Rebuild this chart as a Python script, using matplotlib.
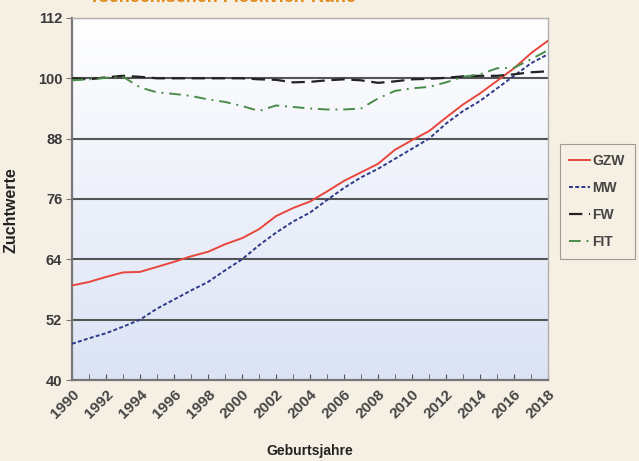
import matplotlib
matplotlib.use("Agg")
import matplotlib.pyplot as plt
import numpy as np

plt.rcParams["font.family"] = ["Liberation Sans", "DejaVu Sans"]

years = list(range(1990, 2019))

gzw = [58.8, 59.5, 60.5, 61.4, 61.5, 62.5, 63.5, 64.6, 65.5, 67.0,
       68.2, 70.0, 72.6, 74.2, 75.5, 77.5, 79.6, 81.3, 83.0, 85.8,
       87.7, 89.5, 92.2, 94.8, 97.0, 99.5, 102.0, 105.0, 107.5]
mw = [47.2, 48.3, 49.3, 50.6, 52.0, 54.2, 56.0, 57.8, 59.5, 61.8,
      64.0, 66.8, 69.3, 71.5, 73.3, 75.8, 78.2, 80.3, 82.0, 84.0,
      86.0, 88.0, 91.0, 93.5, 95.5, 98.0, 100.5, 103.0, 104.8]
fw = [100.0, 99.8, 100.2, 100.5, 100.3, 100.0, 100.0, 100.0, 100.0, 100.0,
      100.0, 99.8, 99.7, 99.2, 99.3, 99.6, 99.8, 99.6, 99.1, 99.4,
      99.8, 99.9, 100.1, 100.4, 100.5, 100.5, 100.8, 101.2, 101.4]
fit = [99.6, 99.8, 100.1, 100.3, 98.2, 97.2, 96.9, 96.5, 95.8, 95.3,
       94.5, 93.5, 94.6, 94.3, 94.0, 93.8, 93.8, 94.0, 96.0, 97.5,
       98.0, 98.3, 99.2, 100.3, 100.8, 102.0, 102.1, 103.8, 105.6]

y_ticks = [40, 52, 64, 76, 88, 100, 112]
x_labels = list(range(1990, 2019, 2))

bg = "#f6efe3"
fig = plt.figure(figsize=(6.39, 4.61), dpi=100, facecolor=bg)
ax = fig.add_axes([0.1127, 0.1757, 0.745, 0.7853])

# white-to-blue gradient behind the lines
grad = np.linspace(0, 1, 256).reshape(-1, 1)
top = np.array([1.0, 1.0, 1.0])
bot = np.array([0.86, 0.89, 0.96])
img = top + (bot - top) * grad[:, :, None]
ax.imshow(img, extent=[0, 1, 0, 1], transform=ax.transAxes,
          aspect="auto", zorder=0)

for v in y_ticks[1:]:
    ax.axhline(v, color="#555555", lw=1.5, zorder=1)

ax.plot(years, gzw, color="#e8463c", lw=1.4, label="GZW", zorder=3)
ax.plot(years, mw, color="#2e3a88", lw=1.4, ls=(0, (2, 1.2)), label="MW", zorder=3)
ax.plot(years, fw, color="#222222", lw=1.6, ls=(0, (6, 3)), label="FW", zorder=3)
ax.plot(years, fit, color="#4a8c4a", lw=1.4, ls=(0, (6, 3, 1, 3)), label="FIT", zorder=3)

ax.set_xlim(1990, 2018)
ax.set_ylim(40, 112)
ax.set_yticks(y_ticks)
ax.set_xticks(x_labels)
ax.set_xticks(years, minor=True)
ax.tick_params(axis="y", length=4, color="#777777", labelsize=10.5,
               labelcolor="#3a3a3a", pad=3)
ax.tick_params(axis="x", which="both", length=4, direction="in",
               color="#555555", labelsize=11, labelcolor="#444444", pad=5)
for lab in ax.get_yticklabels():
    lab.set_fontweight("bold")
for lab in ax.get_xticklabels():
    lab.set_rotation(45)
    lab.set_ha("right")
    lab.set_rotation_mode("anchor")
    lab.set_fontweight("bold")

for side in ("left", "bottom"):
    ax.spines[side].set_color("#777777")
    ax.spines[side].set_linewidth(1.6)
for side in ("top", "right"):
    ax.spines[side].set_color("#b0b0b0")
    ax.spines[side].set_linewidth(1.0)

ax.set_ylabel("Zuchtwerte", fontsize=11.5, fontweight="bold", color="#222222")
ax.yaxis.set_label_coords(-0.113, 0.47)
ax.set_xlabel("Geburtsjahre", fontsize=10, fontweight="bold", color="#222222")
ax.xaxis.set_label_coords(0.5, -0.178)

leg = ax.legend(loc="center left", bbox_to_anchor=(0.876, 0.563),
                bbox_transform=fig.transFigure, borderaxespad=0,
                frameon=True, fancybox=False,
                prop={"size": 10, "weight": "bold"}, handlelength=1.5,
                labelspacing=0.95, borderpad=0.7, handletextpad=0.15)
leg.get_frame().set_edgecolor("#888888")
leg.get_frame().set_facecolor(bg)
leg.get_frame().set_linewidth(0.8)
for t in leg.get_texts():
    t.set_color("#444444")

fig.text(0.14, 1.005, "Tschechischen Fleckvieh-Kühe", fontsize=13,
         fontweight="bold", color="#e08a1c", va="center", ha="left")

fig.savefig("out.png", dpi=100, facecolor=bg)
